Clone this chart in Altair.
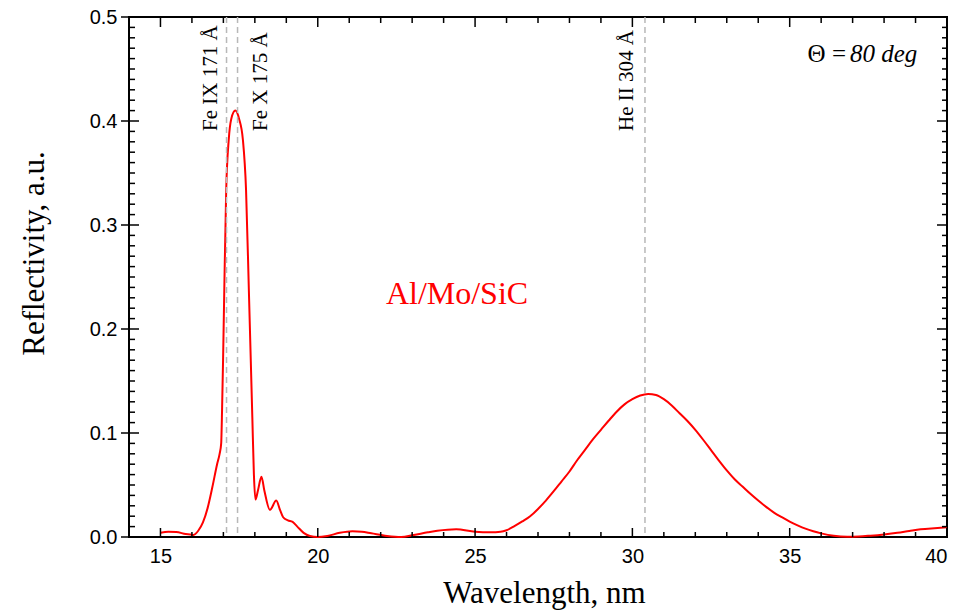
import altair as alt
import pandas as pd

# ---------------- data ----------------
wavelength = [15.0, 15.25, 15.5, 15.8, 16.05, 16.2, 16.35, 16.5, 16.65, 16.8,
              16.88, 16.93, 16.96, 16.99, 17.03, 17.09, 17.17, 17.25, 17.38, 17.5,
              17.62, 17.72, 17.81, 17.92, 17.97, 18.02, 18.1, 18.21, 18.3, 18.48,
              18.68, 18.8, 18.9, 19.05, 19.2, 19.35, 19.55, 19.75, 20.0, 20.3,
              20.7, 21.1, 21.4, 21.7, 22.2, 22.65, 23.05, 23.5, 23.8, 24.4,
              25.0, 25.5, 25.81, 26.0, 26.25, 26.5, 26.75, 27.0, 27.25, 27.5,
              27.75, 28.0, 28.25, 28.5, 28.75, 29.0, 29.25, 29.5, 29.75, 30.0,
              30.25, 30.5, 30.75, 31.0, 31.25, 31.5, 31.75, 32.0, 32.25, 32.5,
              32.75, 33.0, 33.25, 33.5, 33.75, 34.0, 34.25, 34.5, 34.75, 35.0,
              35.25, 35.5, 35.75, 36.0, 36.4, 36.83, 37.2, 37.57, 38.0, 38.42,
              38.8, 39.16, 39.6, 40.0]
reflectivity = [0.004, 0.005, 0.0048, 0.0028, 0.002, 0.006, 0.014, 0.028, 0.048, 0.07,
                0.08, 0.09, 0.125, 0.17, 0.24, 0.334, 0.382, 0.402, 0.41, 0.402,
                0.382, 0.334, 0.237, 0.115, 0.06, 0.036, 0.045, 0.058, 0.045, 0.026,
                0.035, 0.026, 0.019, 0.016, 0.0145, 0.01, 0.004, 0.001, 0.0, 0.001,
                0.004, 0.0055, 0.005, 0.0035, 0.001, 0.0, 0.002, 0.0045, 0.006, 0.0075,
                0.005, 0.0045, 0.005, 0.0065, 0.0105, 0.015, 0.02, 0.027, 0.035, 0.044,
                0.0535, 0.063, 0.074, 0.084, 0.094, 0.103, 0.112, 0.1205, 0.1275, 0.1325,
                0.136, 0.1375, 0.1365, 0.1325, 0.1265, 0.119, 0.1115, 0.103, 0.0935, 0.0835,
                0.0735, 0.064, 0.0555, 0.0485, 0.0415, 0.035, 0.029, 0.0235, 0.019, 0.0148,
                0.0112, 0.008, 0.0055, 0.0035, 0.0012, 0.0003, 0.0005, 0.0013, 0.0025, 0.004,
                0.0058, 0.0074, 0.0085, 0.0093]

line_wl = [17.1, 17.45, 30.4]
line_labels = ["Fe IX 171 Å", "Fe X 175 Å", "He II 304 Å"]

x_major = [15, 20, 25, 30, 35, 40]
x_minor = [v for v in range(15, 40) if v % 5 != 0]
y_major = [0.0, 0.1, 0.2, 0.3, 0.4, 0.5]
y_minor = [round(i * 0.01, 2) for i in range(1, 50) if i % 10 != 0]

material_label = ["Al/Mo/SiC"]
angle_symbol = ["Θ ="]
angle_value = ["80 deg"]

# ---------------- layout ----------------
W, H = 818, 520
SERIF = "Liberation Serif"
SANS = "Liberation Sans"

xs = alt.Scale(domain=[14, 40], nice=False, zero=False)
ys = alt.Scale(domain=[0, 0.5], nice=False)

curve_df = pd.DataFrame({"x": wavelength, "y": reflectivity})
lines_df = pd.DataFrame({"x": line_wl, "label": line_labels})

x_axis = alt.Axis(values=x_major, ticks=False, domain=False, grid=False,
                  labelFont=SANS, labelFontSize=20, labelColor="black", labelPadding=9,
                  title="Wavelength, nm", titleFont=SERIF, titleFontSize=31,
                  titleFontWeight="normal", titleColor="black",
                  titleX=415, titleY=65, titleBaseline="alphabetic", titleAlign="center")
y_axis = alt.Axis(values=y_major, format=".1f", ticks=False, domain=False, grid=False,
                  labelFont=SANS, labelFontSize=20, labelColor="black", labelPadding=12,
                  title="Reflectivity, a.u.", titleFont=SERIF, titleFontSize=31,
                  titleFontWeight="normal", titleColor="black", titleAngle=270,
                  titleX=-86, titleY=236, titleBaseline="alphabetic", titleAlign="center")


def X(field="x"):
    return alt.X(f"{field}:Q", scale=xs, axis=x_axis)


def Y(field="y"):
    return alt.Y(f"{field}:Q", scale=ys, axis=y_axis)


curve = alt.Chart(curve_df).mark_line(color="#ff0000", strokeWidth=2, interpolate="monotone").encode(
    x=X(), y=Y(),
)

dashed = alt.Chart(lines_df).mark_rule(color="#b8b8b8", strokeWidth=1.5, strokeDash=[6, 4]).encode(
    x=X(), y=alt.value(0), y2=alt.value(H),
)

label_shift = [-9.5, 29.5, -12]
label_layers = []
for i in range(len(line_wl)):
    label_layers.append(
        alt.Chart(lines_df.iloc[[i]]).mark_text(
            angle=270, align="left", baseline="alphabetic", dy=label_shift[i],
            font=SERIF, fontSize=21, color="black"
        ).encode(x=X(), y=alt.value(114), text="label:N")
    )


def ticks(vals, side, length, cross=0):
    df = pd.DataFrame({"x": vals, "y": vals})
    m = alt.Chart(df).mark_rule(color="black", strokeWidth=1.5)
    if side == "bottom":
        return m.encode(x=X(), y=alt.value(H), y2=alt.value(H - length))
    if side == "top":
        return m.encode(x=X(), y=alt.value(0), y2=alt.value(length))
    if side == "left":
        return m.encode(y=Y(), x=alt.value(-cross), x2=alt.value(length))
    return m.encode(y=Y(), x=alt.value(W), x2=alt.value(W - length))


tick_layers = [
    ticks(x_major, "bottom", 9), ticks(x_minor, "bottom", 5),
    ticks(x_major, "top", 10), ticks(x_minor, "top", 6),
    ticks(y_major, "left", 10, cross=8), ticks(y_minor, "left", 6),
    ticks(y_major, "right", 10), ticks(y_minor, "right", 5),
]

material = alt.Chart(pd.DataFrame({"t": material_label})).mark_text(
    font=SERIF, fontSize=32, color="#ff0000", align="center", baseline="alphabetic"
).encode(text="t:N", x=alt.value(328), y=alt.value(287))

theta_sym = alt.Chart(pd.DataFrame({"t": angle_symbol})).mark_text(
    font=SERIF, fontSize=25, color="black", align="right", baseline="alphabetic"
).encode(text="t:N", x=alt.value(717), y=alt.value(45))

theta_val = alt.Chart(pd.DataFrame({"t": angle_value})).mark_text(
    font=SERIF, fontSize=25, fontStyle="italic", color="black", align="left", baseline="alphabetic"
).encode(text="t:N", x=alt.value(721), y=alt.value(45))

chart = alt.layer(
    curve, dashed, *tick_layers, *label_layers, material, theta_sym, theta_val
).properties(
    width=W, height=H,
    autosize=alt.AutoSizeParams(type="none"),
    padding={"left": 129, "top": 17, "right": 16, "bottom": 77},
    background="white",
).configure_view(stroke="black", strokeWidth=2)

chart.save("out.html", embed_options={"renderer": "svg", "actions": False})
